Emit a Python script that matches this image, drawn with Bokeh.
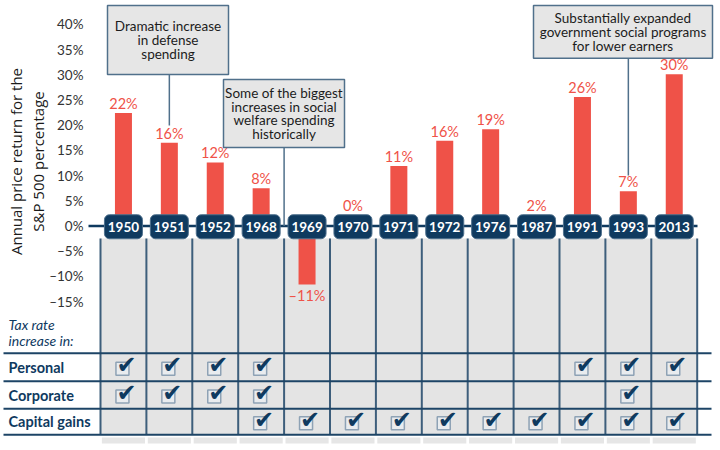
import math
import numpy as np
from bokeh.plotting import figure
from bokeh.models import Range1d, LinearAxis, FixedTicker, ColumnDataSource
from bokeh.core.properties import value
from bokeh.embed import file_html
from bokeh.resources import INLINE

# ---------------- data ----------------
YEARS = ["1950", "1951", "1952", "1968", "1969", "1970", "1971",
         "1972", "1976", "1987", "1991", "1993", "2013"]
RETURNS = [22.4, 16.5, 12.6, 7.5, -11.6, 0.0, 11.9, 16.9, 19.2, 2.0, 25.6, 6.9, 30.1]
RETURN_LABELS = ["22%", "16%", "12%", "8%", "–11%", "0%", "11%", "16%", "19%",
                 "2%", "26%", "7%", "30%"]
Y_TICKS = [40, 35, 30, 25, 20, 15, 10, 5, 0, -5, -10, -15]
Y_TICK_LABELS = ["40%", "35%", "30%", "25%", "20%", "15%", "10%", "5%", "0%",
                 "–5%", "–10%", "–15%"]
ROW_NAMES = ["Personal", "Corporate", "Capital gains"]
PERSONAL = [1, 1, 1, 1, 0, 0, 0, 0, 0, 0, 1, 1, 1]
CORPORATE = [1, 1, 1, 1, 0, 0, 0, 0, 0, 0, 0, 1, 0]
CAPITAL_GAINS = [0, 0, 0, 1, 1, 1, 1, 1, 1, 1, 1, 1, 1]
CALLOUT_TEXTS = ["Dramatic increase\nin defense\nspending",
                 "Some of the biggest\nincreases in social\nwelfare spending\nhistorically",
                 "Substantially expanded\ngovernment social programs\nfor lower earners"]
CALLOUT_ANCHORS = ["1951", "1969|1968", "1993"]
Y_TITLE = "Annual price return for the\nS&P 500 percentage"
TAX_TITLE = "Tax rate\nincrease in:"

# ---------------- layout (screen pixels -> data) ----------------
W, H = 720, 450
MARGIN = 0
COL_LEFT_S = 100.0
COL_W = 45.9
ZERO_S = 225.5
PX_PER_PCT = 5.04

X0 = -(COL_LEFT_S - MARGIN) / COL_W
X1 = X0 + W / COL_W
Y1 = (ZERO_S - MARGIN) / PX_PER_PCT
Y0 = Y1 - H / PX_PER_PCT


def sx(px):
    return X0 + (px - MARGIN) / COL_W


def sy(py):
    return (ZERO_S - py) / PX_PER_PCT


NAVY = "#0f3a5f"
RED = "#ef5248"
GRAY = "#e4e4e4"
VLINE = "#3d5e7b"
BOX_LINE = "#50708b"
FONT = "Lato"

n = len(YEARS)
centers = np.arange(n) + 0.5

p = figure(width=W, height=H, x_range=Range1d(X0, X1), y_range=Range1d(Y0, Y1),
           output_backend="svg", toolbar_location=None,
           x_axis_location=None, y_axis_location=None, min_border=0)
p.outline_line_color = None
p.xgrid.visible = False
p.ygrid.visible = False
p.background_fill_color = "white"
p.border_fill_color = "white"

# gray columns
col_top = sy(238)
col_bot = sy(434.3)
p.quad(left=np.arange(n), right=np.arange(n) + 1, top=col_top, bottom=col_bot,
       fill_color=GRAY, line_color=None)
# bottom strips
p.quad(left=np.arange(n) + 0.03, right=np.arange(n) + 0.97, top=sy(437), bottom=sy(443),
       fill_color="#e6e6e6", line_color=None)
# vertical column separators
p.segment(x0=np.arange(n + 1), x1=np.arange(n + 1), y0=col_top, y1=col_bot,
          line_color=VLINE, line_width=2)
# table horizontal lines
for ly in [352.7, 380.7, 408.3, 434.3]:
    p.segment(x0=[sx(3)], x1=[sx(711)], y0=[sy(ly)], y1=[sy(ly)],
              line_color="#1d4466", line_width=2)

# bars
p.vbar(x=centers, width=17 / COL_W, top=RETURNS, bottom=0, fill_color=RED, line_color=None)

# zero line
p.segment(x0=[sx(88)], x1=[sx(697)], y0=[0], y1=[0], line_color=NAVY, line_width=2.5)

# year badges
half_w = 19 / COL_W
half_h = 12 / PX_PER_PCT
p.quad(left=centers - half_w, right=centers + half_w, top=half_h - 0.15, bottom=-half_h - 0.15,
       fill_color=NAVY, line_color="#4d6f8c", line_width=1, border_radius=5)
p.text(x=centers, y=-0.15, text=YEARS, text_color="white", text_font=value(FONT),
       text_font_style="bold", text_font_size="13.5px", text_align="center",
       text_baseline="middle", y_offset=0)

# value labels
ret = np.array(RETURNS)
badge_top = half_h - 0.15
pos = ret >= 0
lab_src_pos = ColumnDataSource(dict(x=centers[pos], y=np.maximum(ret[pos], badge_top),
                                    t=[l for l, k in zip(RETURN_LABELS, pos) if k]))
p.text(x="x", y="y", text="t", source=lab_src_pos, text_color=RED, text_font=value(FONT),
       text_font_size="14.5px", text_align="center", text_baseline="bottom", y_offset=-1)
neg = ~pos
lab_src_neg = ColumnDataSource(dict(x=centers[neg], y=ret[neg],
                                    t=[l for l, k in zip(RETURN_LABELS, neg) if k]))
p.text(x="x", y="y", text="t", source=lab_src_neg, text_color=RED, text_font=value(FONT),
       text_font_size="14.5px", text_align="center", text_baseline="top", y_offset=3)

# callouts
boxes = [(107, 228, 5, 74), (223, 344, 79, 147), (533, 712, 5, 57.7)]
line_ends = [125, 225.5, 175]


def anchor_x(a):
    if "|" in a:
        y1, y2 = a.split("|")
        return (YEARS.index(y1) + YEARS.index(y2) + 1) / 2.0
    return YEARS.index(a) + 0.5


for (l, r, t, b), txt, anc, le in zip(boxes, CALLOUT_TEXTS, CALLOUT_ANCHORS, line_ends):
    ax = anchor_x(anc)
    p.segment(x0=[ax], x1=[ax], y0=[sy(b)], y1=[sy(le)], line_color=BOX_LINE, line_width=1.5)
    p.quad(left=[sx(l)], right=[sx(r)], top=[sy(t)], bottom=[sy(b)],
           fill_color="#e6e6e6", line_color=BOX_LINE, line_width=1.5)
    p.text(x=[(sx(l) + sx(r)) / 2], y=[(sy(t) + sy(b)) / 2], text=[txt],
           text_color="#1c1c1c", text_font=value(FONT), text_font_size="13.5px",
           text_align="center", text_baseline="middle", text_line_height=0.86)

# y axis (inside, at fixed location)
yaxis = LinearAxis(ticker=FixedTicker(ticks=Y_TICKS), fixed_location=sx(88))
yaxis.major_label_overrides = {t: l for t, l in zip(Y_TICKS, Y_TICK_LABELS)}
yaxis.axis_line_color = None
yaxis.major_tick_line_color = None
yaxis.minor_tick_line_color = None
yaxis.major_tick_in = 0
yaxis.major_tick_out = 0
yaxis.major_label_standoff = 5
yaxis.major_label_text_font = FONT
yaxis.major_label_text_font_size = "13.5px"
yaxis.major_label_text_color = "#333333"
p.add_layout(yaxis, "left")

# y title
p.text(x=[sx(26.5)], y=[sy(161)], text=[Y_TITLE], angle=math.pi / 2, text_color="#1a1a1a",
       text_font=value("Open Sans"), text_font_size="15px", text_align="center",
       text_baseline="middle", text_line_height=1.12)

# tax rate title
p.text(x=[sx(8)], y=[sy(332)], text=[TAX_TITLE], text_color=NAVY, text_font=value(FONT),
       text_font_style="italic", text_font_size="14px", text_align="left",
       text_baseline="middle", text_line_height=0.9)

# row labels
row_centers_s = [366.7, 394.5, 421.3]
p.text(x=[sx(8)] * 3, y=[sy(c) for c in row_centers_s], text=ROW_NAMES, text_color=NAVY,
       text_font=value(FONT), text_font_style="bold", text_font_size="14.5px",
       text_align="left", text_baseline="middle")

# checkboxes
cx, cy = [], []
for flags, rc in zip([PERSONAL, CORPORATE, CAPITAL_GAINS], row_centers_s):
    for i, f in enumerate(flags):
        if f:
            cx.append(i + 0.5)
            cy.append(sy(rc))
cx = np.array(cx)
cy = np.array(cy)
p.scatter(x=cx - 1 / COL_W, y=cy - 1.5 / PX_PER_PCT, marker="square", size=13,
          fill_color="#e9ecef", line_color="#8ea2b5", line_width=1.5)
p.text(x=cx, y=cy, text=["✔"] * len(cx), text_color=NAVY, text_font=value("DejaVu Sans"),
       text_font_size="24px", text_align="center", text_baseline="middle",
       x_offset=3, y_offset=-2)

open("out.html", "w").write(file_html(p, INLINE))
